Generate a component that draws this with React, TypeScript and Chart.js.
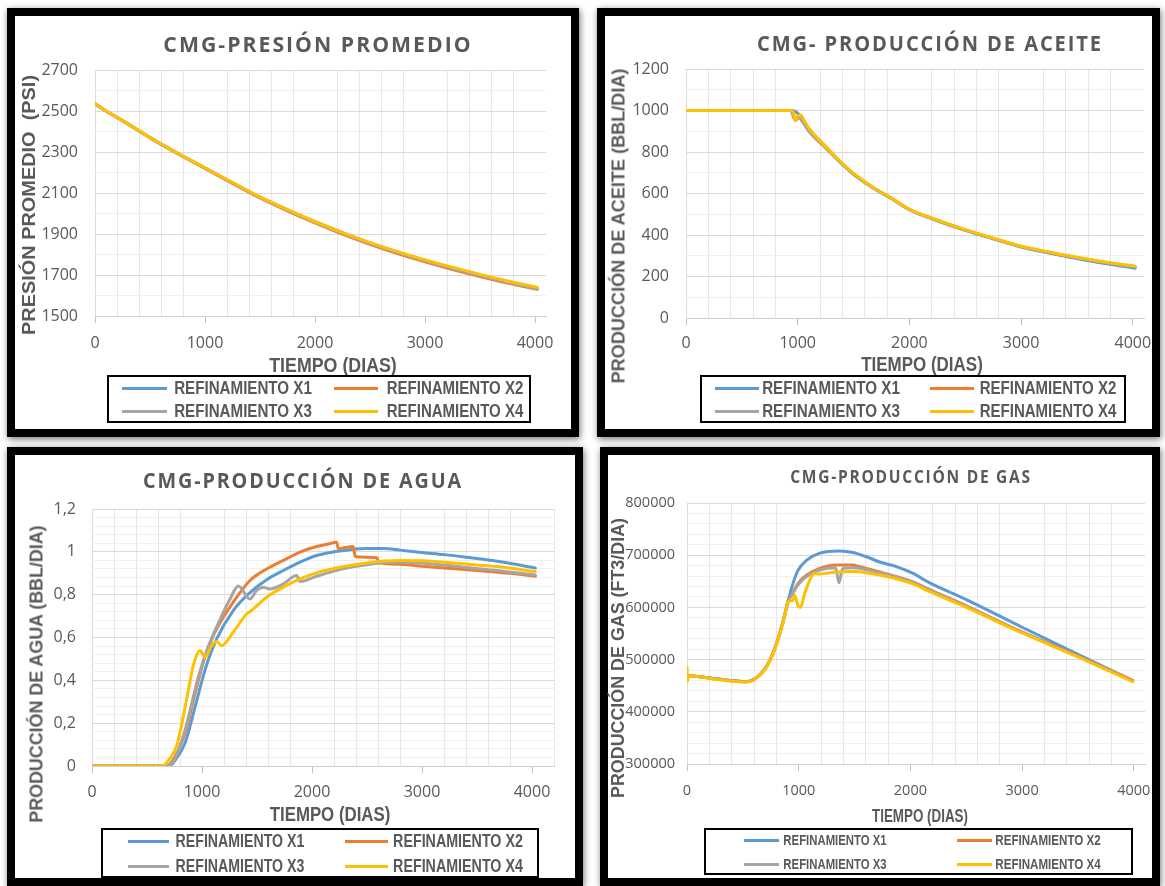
import React, { useEffect, useLayoutEffect, useRef, useState } from "react";
import { Chart, registerables } from "chart.js";

Chart.register(...registerables);

// ---- series identity ----
const SERIES_NAMES = ["REFINAMIENTO X1", "REFINAMIENTO X2", "REFINAMIENTO X3", "REFINAMIENTO X4"];
const SERIES_COLORS = ["#5B9BD5", "#ED7D31", "#A5A5A5", "#FFC000"];

// ---- shared time axis ----
const DAY_TICKS = [0, 1000, 2000, 3000, 4000];
const DAY_MINOR_STEP = 200;

// ---- presión promedio (psi) ----
const pressureDays = [0, 100, 250, 500, 750, 1000, 1250, 1500, 1750, 2000, 2250, 2500, 2750, 3000, 3250, 3500, 3750, 4020];
const pressureX1 = [2535, 2500, 2453, 2370, 2294, 2222, 2150, 2080, 2018, 1960, 1906, 1856, 1812, 1772, 1735, 1700, 1668, 1636];
const pressureX2 = [2535, 2500, 2453, 2369, 2293, 2220, 2147, 2076, 2013, 1954, 1899, 1849, 1804, 1764, 1727, 1693, 1661, 1630];
const pressureX3 = [2535, 2500, 2453, 2370, 2293, 2221, 2149, 2078, 2016, 1957, 1903, 1853, 1809, 1769, 1732, 1697, 1665, 1634];
const pressureX4 = [2535, 2501, 2454, 2371, 2295, 2223, 2151, 2081, 2019, 1961, 1907, 1858, 1814, 1774, 1738, 1703, 1671, 1640];
const pressureTicks = [1500, 1700, 1900, 2100, 2300, 2500, 2700];
const pressureMinorStep = 100;

// ---- producción de aceite (bbl/día) ----
const oilDaysX1 = [0, 940, 980, 1020, 1060, 1100, 1216, 1400, 1500, 1664, 1843, 2000, 2250, 2500, 2750, 3000, 3250, 3500, 3750, 4020];
const oilX1 = [1000, 1000, 995, 975, 945, 912, 842, 740, 693, 630, 575, 522, 468, 422, 382, 342, 313, 287, 263, 240];
const oilDaysX2 = [0, 940, 965, 985, 1010, 1040, 1080, 1216, 1400, 1500, 1664, 1843, 2000, 2250, 2500, 2750, 3000, 3250, 3500, 3750, 4020];
const oilX2 = [1000, 1000, 972, 958, 968, 960, 925, 845, 743, 695, 632, 576, 524, 471, 425, 384, 345, 316, 291, 268, 247];
const oilDaysX3 = [0, 940, 960, 985, 1010, 1050, 1100, 1216, 1400, 1500, 1664, 1843, 2000, 2250, 2500, 2750, 3000, 3250, 3500, 3750, 4020];
const oilX3 = [1000, 1000, 970, 955, 965, 940, 900, 836, 741, 694, 631, 575, 523, 470, 424, 383, 344, 315, 290, 267, 245];
const oilDaysX4 = [0, 940, 965, 978, 1000, 1025, 1060, 1100, 1216, 1395, 1500, 1664, 1843, 2000, 2250, 2500, 2750, 3000, 3250, 3500, 3750, 4020];
const oilX4 = [1000, 1000, 985, 949, 972, 978, 950, 915, 844, 747, 697, 633, 577, 525, 472, 426, 385, 346, 318, 293, 270, 250];
const oilTicks = [0, 200, 400, 600, 800, 1000, 1200];
const oilMinorStep = 100;

// ---- producción de agua (bbl/día) ----
const waterDaysX1 = [0, 700, 760, 848, 939, 1030, 1133, 1284, 1436, 1588, 1739, 1891, 2042, 2200, 2345, 2500, 2650, 2800, 3000, 3200, 3400, 3700, 4030];
const waterX1 = [0, 0, 0.03, 0.11, 0.28, 0.453, 0.593, 0.726, 0.81, 0.87, 0.913, 0.952, 0.983, 1.0, 1.01, 1.015, 1.015, 1.008, 0.997, 0.987, 0.975, 0.955, 0.925];
const waterDaysX2 = [0, 680, 750, 848, 939, 1030, 1133, 1284, 1436, 1588, 1739, 1891, 2042, 2150, 2224, 2240, 2300, 2375, 2392, 2500, 2590, 2608, 2800, 2950, 3200, 3500, 3800, 4030];
const waterX2 = [0, 0, 0.04, 0.157, 0.344, 0.515, 0.64, 0.765, 0.866, 0.92, 0.96, 0.999, 1.025, 1.037, 1.045, 1.014, 1.02, 1.025, 0.978, 0.975, 0.972, 0.95, 0.942, 0.935, 0.925, 0.913, 0.9, 0.886];
const waterDaysX3 = [0, 690, 760, 848, 970, 1061, 1152, 1255, 1330, 1436, 1497, 1557, 1618, 1739, 1861, 1891, 2042, 2200, 2345, 2500, 2650, 2800, 3000, 3376, 3700, 4030];
const waterX3 = [0, 0, 0.04, 0.172, 0.422, 0.562, 0.671, 0.78, 0.84, 0.78, 0.82, 0.835, 0.827, 0.85, 0.889, 0.861, 0.886, 0.91, 0.928, 0.94, 0.949, 0.951, 0.948, 0.928, 0.912, 0.892];
const waterDaysX4 = [0, 640, 700, 770, 861, 921, 982, 1027, 1088, 1133, 1179, 1284, 1406, 1436, 1588, 1739, 1891, 2042, 2200, 2345, 2500, 2650, 2800, 3000, 3376, 3700, 4030];
const waterX4 = [0, 0, 0.03, 0.095, 0.313, 0.469, 0.539, 0.508, 0.562, 0.581, 0.562, 0.625, 0.71, 0.72, 0.788, 0.835, 0.874, 0.902, 0.922, 0.936, 0.948, 0.957, 0.96, 0.958, 0.944, 0.93, 0.908];
const waterTicks = [0, 0.2, 0.4, 0.6, 0.8, 1, 1.2];
const waterTickLabels = ["0", "0,2", "0,4", "0,6", "0,8", "1", "1,2"];
const waterMinorStep = 0.04;

// ---- producción de gas (ft3/día) ----
const gasDaysX1 = [0, 233, 531, 591, 651, 710, 770, 830, 875, 904, 949, 994, 1069, 1188, 1367, 1486, 1606, 1725, 1875, 2023, 2173, 2500, 3000, 3500, 3990];
const gasX1 = [470000, 464000, 457800, 461000, 470600, 486000, 512000, 550000, 585000, 612000, 646000, 671000, 690000, 704000, 708000, 705000, 697000, 687000, 678000, 665000, 647000, 615000, 562000, 510000, 460000];
const gasDaysX2 = [0, 233, 531, 591, 651, 710, 770, 830, 875, 904, 934, 994, 1069, 1188, 1337, 1486, 1546, 1725, 2023, 2173, 2500, 3000, 3500, 3990];
const gasX2 = [470000, 464000, 457800, 461000, 470600, 486000, 512000, 550000, 585000, 612000, 623000, 646000, 661800, 674600, 681000, 681000, 678000, 668000, 649000, 634000, 603000, 553000, 507000, 460000];
const gasDaysX3 = [0, 233, 531, 591, 651, 710, 770, 830, 875, 904, 934, 994, 1069, 1188, 1330, 1361, 1392, 1486, 1725, 2023, 2173, 2500, 3000, 3500, 3990];
const gasX3 = [470000, 464000, 457800, 461000, 470600, 486000, 512000, 550000, 585000, 612000, 622000, 643000, 659000, 671700, 676000, 647000, 674000, 676000, 666000, 648000, 633000, 602000, 552000, 506000, 459000];
const gasDaysX4 = [0, 3, 12, 233, 531, 591, 651, 710, 770, 830, 875, 904, 949, 964, 994, 1015, 1054, 1113, 1143, 1188, 1337, 1486, 1725, 2023, 2173, 2500, 3000, 3500, 3990];
const gasX4 = [485000, 458000, 469000, 463000, 457000, 460000, 470000, 485000, 511000, 549000, 584000, 610800, 614000, 623500, 602500, 600000, 627000, 658600, 665000, 664000, 668000, 669000, 662000, 645000, 630000, 600000, 551000, 505000, 458000];
const gasTicks = [300000, 400000, 500000, 600000, 700000, 800000];
const gasMinorStep = 20000;

// ---- styling ----
const TEXT_GREY = "#595959";
const TICK_FONT = "'Open Sans', 'DejaVu Sans', sans-serif";
const TITLE_FONT = "'Open Sans', 'DejaVu Sans', sans-serif";
const LABEL_FONT = "'Liberation Sans', Arial, sans-serif";
const Y_AXIS_W = 80;
const PAD_T = 32;
const PAD_R = 16;
const X_AXIS_H = 46;
const TICK_LEN = 7;

type Series = { days: number[]; values: number[] };
type Rect = { left: number; top: number; right: number; bottom: number };
type ChartSpec = {
  series: Series[];
  xMax: number;
  yTicks: number[];
  yLabels: string[];
  yMinorStep: number;
  plot: Rect;
  tickSize: number;
  yLabelGap: number;
  xLabelDrop: number;
};

function LineChart({ spec }: { spec: ChartSpec }) {
  const ref = useRef<HTMLCanvasElement>(null);
  const left = spec.plot.left - Y_AXIS_W;
  const top = spec.plot.top - PAD_T;
  const width = spec.plot.right + PAD_R - left;
  const height = spec.plot.bottom + X_AXIS_H - top;

  useEffect(() => {
    const yMin = spec.yTicks[0];
    const yMax = spec.yTicks[spec.yTicks.length - 1];
    const yCount = Math.round((yMax - yMin) / spec.yMinorStep);
    const yVals = Array.from({ length: yCount + 1 }, (_, i) => +(yMin + i * spec.yMinorStep).toFixed(6));
    const xVals: number[] = [];
    for (let v = 0; v <= spec.xMax; v += DAY_MINOR_STEP) xVals.push(v);
    if (xVals[xVals.length - 1] !== spec.xMax) xVals.push(spec.xMax);
    const majorIndex = (v: number) => spec.yTicks.findIndex((t) => Math.abs(t - v) < spec.yMinorStep / 10);
    const tickFont = { family: TICK_FONT, size: spec.tickSize, weight: "normal" as const, lineHeight: 1.2 };
    const lineH = spec.tickSize * 1.2;

    const chart = new Chart(ref.current as HTMLCanvasElement, {
      type: "line",
      data: {
        datasets: spec.series.map((s, i) => ({
          label: SERIES_NAMES[i],
          data: s.days.map((d, k) => ({ x: d, y: s.values[k] })),
          borderColor: SERIES_COLORS[i],
          backgroundColor: SERIES_COLORS[i],
          borderWidth: 3,
          pointRadius: 0,
          pointHoverRadius: 0,
          fill: false,
          cubicInterpolationMode: "monotone" as const,
          borderCapStyle: "round" as const,
          borderJoinStyle: "round" as const,
          order: spec.series.length - 1 - i,
        })),
      },
      options: {
        responsive: false,
        animation: false,
        devicePixelRatio: 1,
        events: [],
        layout: { padding: { top: PAD_T, right: PAD_R, left: 0, bottom: 0 } },
        plugins: {
          legend: { display: false },
          title: { display: false },
          tooltip: { enabled: false },
        },
        scales: {
          x: {
            type: "linear",
            min: 0,
            max: spec.xMax,
            afterBuildTicks: (s: any) => {
              s.ticks = xVals.map((v) => ({ value: v }));
            },
            afterFit: (s: any) => {
              s.height = X_AXIS_H;
            },
            ticks: {
              autoSkip: false,
              maxRotation: 0,
              minRotation: 0,
              padding: spec.xLabelDrop - TICK_LEN - lineH / 2,
              font: tickFont,
              color: TEXT_GREY,
              callback: (v: any) => (DAY_TICKS.includes(Number(v)) ? String(v) : ""),
            },
            grid: {
              drawTicks: true,
              tickLength: TICK_LEN,
              lineWidth: 1,
              color: (c: any) => {
                const v = c.tick ? c.tick.value : 0;
                if (v === 0) return "#dcdcdc";
                if (v % 1000 === 0) return "rgba(0,0,0,0)";
                if (v % DAY_MINOR_STEP !== 0) return "rgba(0,0,0,0)";
                return "#e6e6e6";
              },
              tickColor: (c: any) => {
                const v = c.tick ? c.tick.value : 1;
                return v % 1000 === 0 ? "#c4c4c4" : "rgba(0,0,0,0)";
              },
            },
            border: { display: true, color: "#cfcfcf", width: 1 },
          },
          y: {
            type: "linear",
            min: yMin,
            max: yMax,
            afterBuildTicks: (s: any) => {
              s.ticks = yVals.map((v) => ({ value: v }));
            },
            afterFit: (s: any) => {
              s.width = Y_AXIS_W;
            },
            ticks: {
              autoSkip: false,
              padding: spec.yLabelGap,
              font: tickFont,
              color: TEXT_GREY,
              callback: (v: any) => {
                const k = majorIndex(Number(v));
                return k >= 0 ? spec.yLabels[k] : "";
              },
            },
            grid: {
              drawTicks: false,
              lineWidth: 1,
              color: (c: any) => (c.tick && majorIndex(c.tick.value) >= 0 ? "#d9d9d9" : "#efefef"),
            },
            border: { display: false },
          },
        },
      },
    } as any);
    return () => chart.destroy();
  }, [spec]);

  return (
    <canvas
      ref={ref}
      width={width}
      height={height}
      style={{ position: "absolute", left, top, width, height }}
    />
  );
}

// Text squeezed/stretched horizontally to a set width, centred on (cx, cy).
function FitText(props: {
  text: string;
  cx: number;
  cy: number;
  w: number;
  size: number;
  family: string;
  weight: number;
  spacing?: number;
  vertical?: boolean;
}) {
  const ref = useRef<HTMLSpanElement>(null);
  const [scale, setScale] = useState(1);
  useLayoutEffect(() => {
    if (ref.current) {
      const natural = ref.current.offsetWidth;
      if (natural > 0) setScale(props.w / natural);
    }
  }, [props.text, props.w, props.size]);
  return (
    <span
      ref={ref}
      style={{
        position: "absolute",
        left: props.cx,
        top: props.cy,
        whiteSpace: "pre",
        fontFamily: props.family,
        fontWeight: props.weight,
        fontSize: props.size,
        letterSpacing: props.spacing ?? 0,
        lineHeight: 1,
        color: TEXT_GREY,
        transform: `translate(-50%, -50%) rotate(${props.vertical ? -90 : 0}deg) scaleX(${scale})`,
      }}
    >
      {props.text}
    </span>
  );
}

type LegendSpec = {
  box: { left: number; top: number; width: number; height: number };
  rows: number[];
  cols: { line: [number, number]; text: [number, number] }[];
  size: number;
};

function Legend({ spec }: { spec: LegendSpec }) {
  return (
    <>
      <div
        style={{
          position: "absolute",
          left: spec.box.left,
          top: spec.box.top,
          width: spec.box.width,
          height: spec.box.height,
          border: "2px solid #000",
          boxSizing: "border-box",
        }}
      />
      {SERIES_NAMES.map((name, i) => {
        const row = spec.rows[Math.floor(i / 2)];
        const col = spec.cols[i % 2];
        return (
          <React.Fragment key={name}>
            <div
              style={{
                position: "absolute",
                left: col.line[0],
                top: row - 1.5,
                width: col.line[1] - col.line[0],
                height: 3,
                background: SERIES_COLORS[i],
              }}
            />
            <FitText
              text={name}
              cx={(col.text[0] + col.text[1]) / 2}
              cy={row}
              w={col.text[1] - col.text[0]}
              size={spec.size}
              family={LABEL_FONT}
              weight={700}
            />
          </React.Fragment>
        );
      })}
    </>
  );
}

type PanelSpec = {
  frame: { left: number; top: number; width: number; height: number };
  chart: ChartSpec;
  title: { text: string; cx: number; cy: number; w: number; size: number };
  yTitle: { text: string; cx: number; cy: number; w: number; size: number };
  xTitle: { text: string; cx: number; cy: number; w: number; size: number };
  legend: LegendSpec;
};

const pressureChart: ChartSpec = {
  series: [
    { days: pressureDays, values: pressureX1 },
    { days: pressureDays, values: pressureX2 },
    { days: pressureDays, values: pressureX3 },
    { days: pressureDays, values: pressureX4 },
  ],
  xMax: 4100,
  yTicks: pressureTicks,
  yLabels: pressureTicks.map(String),
  yMinorStep: pressureMinorStep,
  plot: { left: 95, top: 70, right: 546, bottom: 316 },
  tickSize: 16,
  yLabelGap: 17,
  xLabelDrop: 27,
};

const oilChart: ChartSpec = {
  series: [
    { days: oilDaysX1, values: oilX1 },
    { days: oilDaysX2, values: oilX2 },
    { days: oilDaysX3, values: oilX3 },
    { days: oilDaysX4, values: oilX4 },
  ],
  xMax: 4100,
  yTicks: oilTicks,
  yLabels: oilTicks.map(String),
  yMinorStep: oilMinorStep,
  plot: { left: 686, top: 69, right: 1144, bottom: 318 },
  tickSize: 16,
  yLabelGap: 17,
  xLabelDrop: 25,
};

const waterChart: ChartSpec = {
  series: [
    { days: waterDaysX1, values: waterX1 },
    { days: waterDaysX2, values: waterX2 },
    { days: waterDaysX3, values: waterX3 },
    { days: waterDaysX4, values: waterX4 },
  ],
  xMax: 4200,
  yTicks: waterTicks,
  yLabels: waterTickLabels,
  yMinorStep: waterMinorStep,
  plot: { left: 92, top: 509, right: 554, bottom: 766 },
  tickSize: 16,
  yLabelGap: 16,
  xLabelDrop: 26,
};

const gasChart: ChartSpec = {
  series: [
    { days: gasDaysX1, values: gasX1 },
    { days: gasDaysX2, values: gasX2 },
    { days: gasDaysX3, values: gasX3 },
    { days: gasDaysX4, values: gasX4 },
  ],
  xMax: 4100,
  yTicks: gasTicks,
  yLabels: gasTicks.map(String),
  yMinorStep: gasMinorStep,
  plot: { left: 687, top: 503, right: 1145, bottom: 764 },
  tickSize: 14.5,
  yLabelGap: 12,
  xLabelDrop: 27,
};

const PANELS: PanelSpec[] = [
  {
    frame: { left: 7, top: 8, width: 572, height: 429 },
    chart: pressureChart,
    title: { text: "CMG-PRESIÓN PROMEDIO", cx: 318, cy: 44, w: 309, size: 21 },
    yTitle: { text: "PRESIÓN PROMEDIO  (PSI)", cx: 29, cy: 205, w: 260, size: 18 },
    xTitle: { text: "TIEMPO (DIAS)", cx: 333, cy: 364, w: 128, size: 21 },
    legend: {
      box: { left: 107, top: 375, width: 424, height: 48 },
      rows: [388, 411],
      cols: [
        { line: [122, 167], text: [174, 312] },
        { line: [334, 378], text: [386, 523] },
      ],
      size: 18,
    },
  },
  {
    frame: { left: 597, top: 8, width: 563, height: 429 },
    chart: oilChart,
    title: { text: "CMG- PRODUCCIÓN DE ACEITE", cx: 930, cy: 43, w: 346, size: 21 },
    yTitle: { text: "PRODUCCIÓN DE ACEITE (BBL/DIA)", cx: 618, cy: 226, w: 315, size: 19 },
    xTitle: { text: "TIEMPO (DIAS)", cx: 922, cy: 363, w: 122, size: 21 },
    legend: {
      box: { left: 700, top: 375, width: 426, height: 48 },
      rows: [388, 411],
      cols: [
        { line: [715, 759], text: [762, 900] },
        { line: [930, 974], text: [979, 1116] },
      ],
      size: 18,
    },
  },
  {
    frame: { left: 7, top: 447, width: 576, height: 439 },
    chart: waterChart,
    title: { text: "CMG-PRODUCCIÓN DE AGUA", cx: 303, cy: 480, w: 320, size: 21 },
    yTitle: { text: "PRODUCCIÓN DE AGUA (BBL/DIA)", cx: 36, cy: 674, w: 297, size: 19 },
    xTitle: { text: "TIEMPO (DIAS)", cx: 330, cy: 813, w: 121, size: 21 },
    legend: {
      box: { left: 101, top: 828, width: 438, height: 50 },
      rows: [841, 866],
      cols: [
        { line: [128, 169], text: [175, 304] },
        { line: [345, 388], text: [393, 523] },
      ],
      size: 18,
    },
  },
  {
    frame: { left: 600, top: 447, width: 560, height: 439 },
    chart: gasChart,
    title: { text: "CMG-PRODUCCIÓN DE GAS", cx: 911, cy: 476, w: 242, size: 18 },
    yTitle: { text: "PRODUCCIÓN DE GAS (FT3/DIA)", cx: 618, cy: 658, w: 280, size: 18 },
    xTitle: { text: "TIEMPO (DIAS)", cx: 920, cy: 816, w: 96, size: 18 },
    legend: {
      box: { left: 704, top: 828, width: 429, height: 47 },
      rows: [840, 864],
      cols: [
        { line: [744, 779], text: [783, 886] },
        { line: [957, 992], text: [995, 1100] },
      ],
      size: 14,
    },
  },
];

function Panel({ spec }: { spec: PanelSpec }) {
  return (
    <>
      <div
        style={{
          position: "absolute",
          left: spec.frame.left,
          top: spec.frame.top,
          width: spec.frame.width,
          height: spec.frame.height,
          border: "8px solid #000",
          boxSizing: "border-box",
          background: "#fff",
          boxShadow: "1px 2px 7px rgba(0,0,0,0.55)",
        }}
      />
      <LineChart spec={spec.chart} />
      <FitText
        text={spec.title.text}
        cx={spec.title.cx}
        cy={spec.title.cy}
        w={spec.title.w}
        size={spec.title.size}
        family={TITLE_FONT}
        weight={700}
        spacing={2}
      />
      <FitText
        text={spec.yTitle.text}
        cx={spec.yTitle.cx}
        cy={spec.yTitle.cy}
        w={spec.yTitle.w}
        size={spec.yTitle.size}
        family={LABEL_FONT}
        weight={700}
        vertical
      />
      <FitText
        text={spec.xTitle.text}
        cx={spec.xTitle.cx}
        cy={spec.xTitle.cy}
        w={spec.xTitle.w}
        size={spec.xTitle.size}
        family={LABEL_FONT}
        weight={700}
      />
      <Legend spec={spec.legend} />
    </>
  );
}

export default function App() {
  return (
    <div
      style={{
        position: "fixed",
        left: 0,
        top: 0,
        width: 1165,
        height: 886,
        background: "#fff",
        overflow: "hidden",
      }}
    >
      {PANELS.map((p, i) => (
        <Panel key={i} spec={p} />
      ))}
    </div>
  );
}
